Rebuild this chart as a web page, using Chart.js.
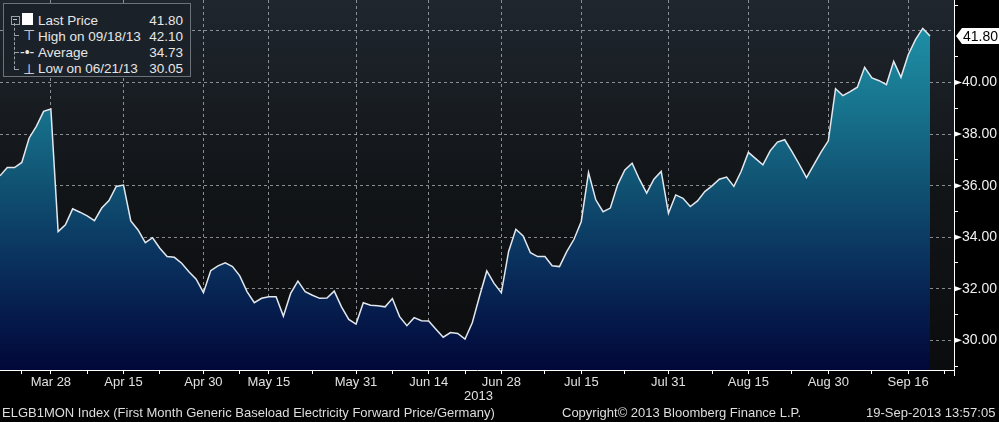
<!DOCTYPE html>
<html>
<head>
<meta charset="utf-8">
<script src="https://cdn.jsdelivr.net/npm/chart.js@4/dist/chart.umd.min.js"></script>
<style>
  html, body { margin: 0; padding: 0; background: #000; }
  #wrap { position: relative; width: 999px; height: 422px; overflow: hidden; font-family: "Liberation Sans", Arial, sans-serif; color: #dcdcdc; }
  #chart { position: absolute; left: 0; top: 0; }
  #legend { position: absolute; left: 3px; top: 3px; width: 186px; height: 72px; background: #1b2128; border: 1px solid #6c7278; }
  #legend .row { position: absolute; left: 34px; right: 7px; height: 16px; font-size: 13.5px; line-height: 16px; color: #e6e6e6; }
  #legend .row span.v { position: absolute; right: 0; top: 0; }
  #legend .sym { position: absolute; color: #e6e6e6; font-size: 14px; line-height: 16px; }
  .vline { position: absolute; left: 10px; top: 19px; height: 46px; border-left: 1px dashed #9aa0a6; }
  .hline { position: absolute; left: 10px; width: 5px; border-top: 1px dashed #9aa0a6; }
  #year { position: absolute; left: 464px; top: 388px; font-size: 13px; color: #e0e0e0; }
  .foot { position: absolute; top: 405px; font-size: 13px; color: #dedede; white-space: nowrap; }
</style>
</head>
<body>
<div id="wrap">
  <canvas id="chart" width="999" height="422"></canvas>
  <div id="legend">
    <div style="position:absolute;left:7px;top:12px;width:7px;height:7px;border:1px solid #9aa0a6;"></div>
    <div style="position:absolute;left:9px;top:15px;width:4px;height:1px;background:#c0c4c8;"></div>
    <div class="vline"></div>
    <div class="hline" style="top:31px"></div>
    <div class="hline" style="top:48px"></div>
    <div class="hline" style="top:65px"></div>
    <div style="position:absolute;left:18px;top:9px;width:11px;height:12px;background:#fff;"></div>
    <div class="sym" style="left:19px;top:23px;">&#x22A4;</div>
    <div class="sym" style="left:16px;top:40px;">-&#x2022;-</div>
    <div class="sym" style="left:19px;top:57px;">&#x22A5;</div>
    <div class="row" style="top:9px">Last Price<span class="v">41.80</span></div>
    <div class="row" style="top:25px">High on 09/18/13<span class="v">42.10</span></div>
    <div class="row" style="top:41px">Average<span class="v">34.73</span></div>
    <div class="row" style="top:57px">Low on 06/21/13<span class="v">30.05</span></div>
  </div>
  <div id="year">2013</div>
  <div class="foot" style="left:2px">ELGB1MON Index (First Month Generic Baseload Electricity Forward Price/Germany)</div>
  <div class="foot" style="left:562px">Copyright&copy; 2013 Bloomberg Finance L.P.</div>
  <div class="foot" style="left:866px">19-Sep-2013 13:57:05</div>
</div>
<script>
// daily prices, one per trading day (Mar 18 .. Sep 19, 2013)
const prices = [
  36.38, 36.70, 36.70, 36.90, 37.84, 38.30, 38.88, 38.97, 34.22, 34.48,
  35.10, 34.97, 34.83, 34.64, 35.13, 35.42, 35.97, 36.02, 34.63, 34.28,
  33.79, 33.98, 33.57, 33.25, 33.22, 32.99, 32.66, 32.37, 31.85, 32.70,
  32.89, 33.01, 32.86, 32.50, 31.89, 31.46, 31.63, 31.69, 31.69, 30.94,
  31.82, 32.30, 31.89, 31.75, 31.63, 31.64, 31.91, 31.30, 30.81, 30.63,
  31.46, 31.36, 31.34, 31.30, 31.62, 30.92, 30.57, 30.88, 30.76, 30.75,
  30.43, 30.12, 30.30, 30.27, 30.05, 30.68, 31.71, 32.69, 32.21, 31.85,
  33.45, 34.31, 34.05, 33.40, 33.25, 33.25, 32.89, 32.86, 33.44, 33.92,
  34.61, 36.51, 35.45, 34.99, 35.13, 36.03, 36.61, 36.87, 36.25, 35.71,
  36.25, 36.55, 34.93, 35.64, 35.51, 35.19, 35.41, 35.77, 35.99, 36.25,
  36.33, 35.97, 36.55, 37.29, 37.05, 36.81, 37.35, 37.69, 37.78, 37.32,
  36.83, 36.31, 36.81, 37.30, 37.74, 39.76, 39.49, 39.65, 39.82, 40.59,
  40.18, 40.07, 39.92, 40.82, 40.20, 41.08, 41.66, 42.10, 41.80
];
const days = prices.map((p, i) => i);
const lastPrice = prices[prices.length - 1];

// x tick labels and the trading-day index they sit on
const tickLabels = ['Mar 28', 'Apr 15', 'Apr 30', 'May 15', 'May 31', 'Jun 14', 'Jun 28', 'Jul 15', 'Jul 31', 'Aug 15', 'Aug 30', 'Sep 16'];
const tickDays = [7, 17, 28, 37, 49, 59, 69, 80, 92, 103, 114, 125];
const minorDays = [3, 12, 22, 33, 43, 54, 64, 75, 86, 98, 109, 120, 130];

// y axis
const yMin = 28.85, yMax = 43.2;
const yTicks = [29, 30, 31, 32, 33, 34, 35, 36, 37, 38, 39, 40, 41, 42, 43];

const gridCol = 'rgba(175,180,186,0.75)';

// labelled y ticks, except the one hidden under the last price tag
function showYLabel(v) {
  return v % 2 === 0 && Math.abs(v - lastPrice) > 0.5;
}

const bgPlugin = {
  id: 'bg',
  beforeDraw(chart) {
    const { ctx, chartArea: a } = chart;
    const g = ctx.createLinearGradient(0, a.top, 0, a.bottom);
    g.addColorStop(0, '#1f262e');
    g.addColorStop(0.5, '#121518');
    g.addColorStop(1, '#0b0c0e');
    ctx.save();
    ctx.fillStyle = g;
    ctx.fillRect(a.left, a.top, a.right - a.left, a.bottom - a.top);
    ctx.restore();
  },
  afterDraw(chart) {
    const { ctx } = chart;
    const ys = chart.scales.y;
    const x0 = ys.left;
    ctx.save();
    // small pointers on the labelled y ticks
    ctx.fillStyle = '#ffffff';
    yTicks.forEach(v => {
      if (!showYLabel(v)) return;
      const y = ys.getPixelForValue(v);
      ctx.beginPath();
      ctx.moveTo(x0 + 1, y - 2.5);
      ctx.lineTo(x0 + 8, y);
      ctx.lineTo(x0 + 1, y + 2.5);
      ctx.closePath();
      ctx.fill();
    });
    // short stub of the right axis below the x axis
    ctx.fillRect(x0, chart.chartArea.bottom, 1, 6);
    // last price tag
    const y = ys.getPixelForValue(lastPrice);
    ctx.beginPath();
    ctx.moveTo(x0 + 2, y);
    ctx.lineTo(x0 + 8, y - 8);
    ctx.lineTo(999, y - 8);
    ctx.lineTo(999, y + 8);
    ctx.lineTo(x0 + 8, y + 8);
    ctx.closePath();
    ctx.fill();
    ctx.fillStyle = '#000';
    ctx.font = '14px "Liberation Sans", Arial, sans-serif';
    ctx.textBaseline = 'middle';
    ctx.fillText(lastPrice.toFixed(2), x0 + 9, y + 1);
    ctx.restore();
  }
};

new Chart(document.getElementById('chart'), {
  type: 'line',
  data: {
    labels: days,
    datasets: [{
      data: prices.map((p, i) => ({ x: days[i], y: p })),
      borderColor: '#e2e8ee',
      borderWidth: 1.5,
      pointRadius: 0,
      tension: 0,
      fill: 'start',
      backgroundColor(c) {
        const a = c.chart.chartArea;
        if (!a) return '#0d3f66';
        const g = c.chart.ctx.createLinearGradient(0, a.top, 0, a.bottom);
        g.addColorStop(0, '#2198ae');
        g.addColorStop(0.3, '#17728c');
        g.addColorStop(0.5, '#105272');
        g.addColorStop(0.7, '#0a325e');
        g.addColorStop(0.85, '#051b4c');
        g.addColorStop(1, '#010838');
        return g;
      }
    }]
  },
  options: {
    responsive: false,
    animation: false,
    layout: { padding: 0 },
    plugins: { legend: { display: false }, tooltip: { enabled: false } },
    scales: {
      x: {
        type: 'linear',
        min: 0,
        max: 131.3,
        afterBuildTicks(s) {
          s.ticks = tickDays.concat(minorDays).sort((a, b) => a - b).map(v => ({ value: v }));
        },
        afterFit(s) { s.height = 52; s.paddingLeft = 0; s.paddingRight = 0; },
        ticks: {
          autoSkip: false,
          maxRotation: 0,
          padding: 1,
          color: '#e0e0e0',
          font: { family: '"Liberation Sans", Arial, sans-serif', size: 13 },
          callback(v) {
            const k = tickDays.indexOf(v);
            return k >= 0 ? tickLabels[k] : '';
          }
        },
        grid: {
          color(c) { return c.tick && tickDays.includes(c.tick.value) ? gridCol : 'rgba(0,0,0,0)'; },
          tickColor: '#ffffff',
          tickLength: 4,
          lineWidth: 1
        },
        border: { display: true, color: '#ffffff', width: 1, dash: [3, 3] }
      },
      y: {
        position: 'right',
        min: yMin,
        max: yMax,
        afterBuildTicks(s) { s.ticks = yTicks.map(v => ({ value: v })); },
        afterFit(s) { s.width = 45; s.paddingTop = 0; s.paddingBottom = 0; },
        ticks: {
          padding: 4,
          color: '#f0f0f0',
          font: { family: '"Liberation Sans", Arial, sans-serif', size: 14 },
          callback(v) { return showYLabel(v) ? v.toFixed(2) : ''; }
        },
        grid: {
          color(c) { return c.tick && c.tick.value % 2 === 0 ? gridCol : 'rgba(0,0,0,0)'; },
          tickColor(c) { return c.tick && c.tick.value % 2 === 0 ? 'rgba(0,0,0,0)' : '#ffffff'; },
          tickLength: 4,
          lineWidth: 1
        },
        border: { display: true, color: '#ffffff', width: 1, dash: [3, 3] }
      }
    }
  },
  plugins: [bgPlugin]
});
</script>
</body>
</html>
